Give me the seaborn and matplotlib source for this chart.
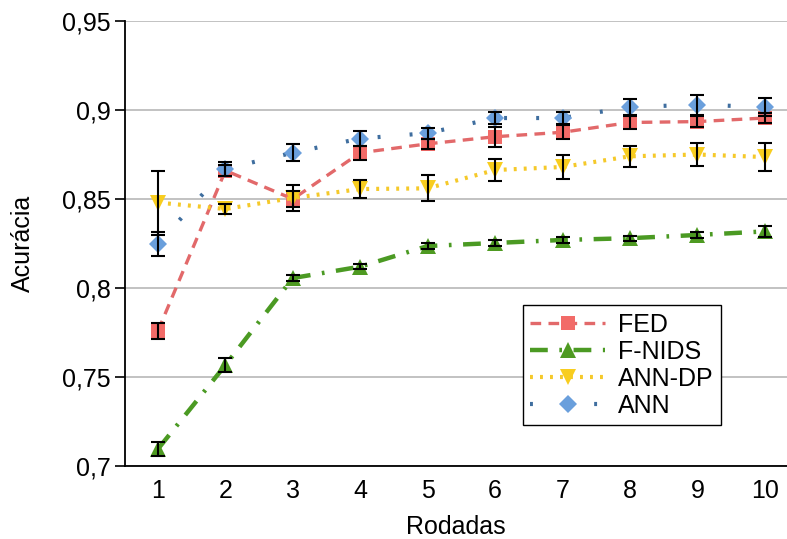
import matplotlib
matplotlib.use("Agg")
import matplotlib.pyplot as plt
import seaborn as sns
import pandas as pd

rounds = [1, 2, 3, 4, 5, 6, 7, 8, 9, 10]
fed = [0.776, 0.866, 0.850, 0.876, 0.881, 0.885, 0.8875, 0.893, 0.8935, 0.8955]
fed_err = [0.0045, 0.003, 0.0045, 0.004, 0.003, 0.0055, 0.004, 0.0035, 0.003, 0.003]
fnids = [0.7096, 0.7567, 0.8056, 0.812, 0.8236, 0.8253, 0.827, 0.828, 0.8298, 0.8318]
fnids_err = [0.004, 0.004, 0.0015, 0.0015, 0.0015, 0.0015, 0.0015, 0.0015, 0.0015, 0.003]
anndp = [0.848, 0.8444, 0.8506, 0.8556, 0.856, 0.8663, 0.868, 0.874, 0.875, 0.8736]
anndp_err = [0.018, 0.0028, 0.0073, 0.005, 0.0073, 0.006, 0.0067, 0.006, 0.0067, 0.0076]
ann = [0.8247, 0.867, 0.876, 0.884, 0.887, 0.8955, 0.8955, 0.9017, 0.903, 0.9017]
ann_err = [0.0067, 0.004, 0.0048, 0.004, 0.003, 0.0035, 0.0035, 0.0045, 0.0056, 0.005]

series_names = ["FED", "F-NIDS", "ANN-DP", "ANN"]
y_ticks = [0.7, 0.75, 0.8, 0.85, 0.9, 0.95]
y_tick_labels = ["0,7", "0,75", "0,8", "0,85", "0,9", "0,95"]

sns.set_theme(style="white")
plt.rcParams["font.family"] = ["Liberation Sans", "DejaVu Sans"]
plt.rcParams["text.color"] = "black"
plt.rcParams["axes.labelcolor"] = "black"
plt.rcParams["xtick.color"] = "black"
plt.rcParams["ytick.color"] = "black"

fig = plt.figure(figsize=(7.87, 5.39), dpi=100)
ax = fig.add_axes([0.1588, 0.1354, 0.8412, 0.8256])

styles = [
    dict(color="#e2696a", marker="s", ms=10, lw=2.4, ls=(0, (3.2, 2.2)), mfc="#f26b68"),
    dict(color="#4b9a23", marker="^", ms=12, lw=3.2, ls=(0, (4.0, 2.6, 0.6, 2.6)), mfc="#4e9a21"),
    dict(color="#f5c92a", marker="v", ms=12, lw=3.0, ls=(0, (0.7, 1.7)), mfc="#f8cd1f"),
    dict(color="#3f6e9f", marker="D", ms=9.5, lw=3.0, ls=(0, (0.7, 7.0)), mfc="#6a9fdc"),
]
data = [(fed, fed_err), (fnids, fnids_err), (anndp, anndp_err), (ann, ann_err)]

for name, (vals, errs), st in zip(series_names, data, styles):
    df = pd.DataFrame({"Rodadas": rounds, "Acurácia": vals})
    sns.lineplot(data=df, x="Rodadas", y="Acurácia", ax=ax, color=st["color"],
                 marker=st["marker"], markersize=st["ms"], linewidth=st["lw"],
                 linestyle=st["ls"], markerfacecolor=st["mfc"], markeredgewidth=0,
                 label=name, zorder=3)

for (vals, errs) in data:
    ax.errorbar(rounds, vals, yerr=errs, fmt="none", ecolor="black",
                elinewidth=1.5, capsize=5, capthick=1.5, zorder=5)

ax.set_xlim(0.51, 10.33)
ax.set_ylim(0.7, 0.95)
ax.set_xticks(rounds)
ax.set_xticklabels([str(r) for r in rounds], fontsize=18)
ax.set_yticks(y_ticks)
ax.set_yticklabels(y_tick_labels, fontsize=18)
ax.yaxis.grid(True, color="#bdbdbd", linewidth=1.3)
ax.xaxis.grid(False)
for s in ["top", "right"]:
    ax.spines[s].set_visible(False)
for s in ["left", "bottom"]:
    ax.spines[s].set_color("black")
    ax.spines[s].set_linewidth(1.3)
ax.tick_params(axis="y", which="both", left=True, length=7, width=1.2, color="black", pad=3)
ax.tick_params(axis="x", bottom=False, pad=3)
ax.set_xlabel("Rodadas", fontsize=18, labelpad=9)
ax.set_ylabel("Acurácia", fontsize=18, labelpad=20)

leg = ax.legend(loc="lower left", bbox_to_anchor=(0.601, 0.092), fontsize=18,
                frameon=True, fancybox=False, edgecolor="black", framealpha=1,
                handlelength=3.0, handletextpad=0.5, borderpad=0.3, labelspacing=0.12,
                borderaxespad=0)
leg.get_frame().set_linewidth(1.0)

fig.savefig("out.png", dpi=100)
